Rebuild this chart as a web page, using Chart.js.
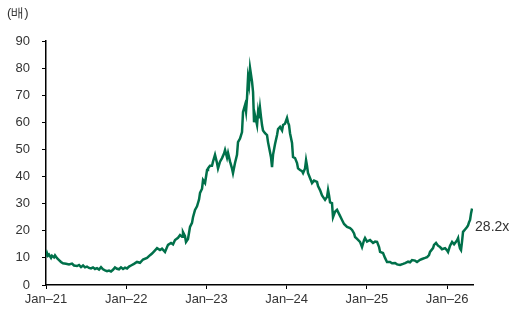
<!DOCTYPE html>
<html>
<head>
<meta charset="utf-8">
<script src="https://cdn.jsdelivr.net/npm/chart.js@4"></script>
<style>
  html, body { margin: 0; padding: 0; background: #fff; }
  #wrap { width: 514px; height: 314px; }
</style>
</head>
<body>
<div id="wrap"><canvas id="peChart" width="514" height="314"></canvas></div>
<script>
// --- data ---
// x: months since Jan-21, y: multiple (배)
const monthsSinceJan21 = [
  0, 0.15, 0.3, 0.45, 0.75, 0.9, 1.2, 1.35, 1.65, 1.95, 2.24, 2.54, 2.99, 3.44, 3.89, 4.19, 4.64, 4.94,
  5.24, 5.54, 5.83, 6.13, 6.43, 6.73, 7.03, 7.33, 7.63, 7.93, 8.23, 8.53, 8.83, 9.13, 9.42, 9.72, 10.02,
  10.32, 10.62, 10.92, 11.22, 11.52, 11.82, 12.12, 12.42, 12.72, 13.16, 13.61, 14.06, 14.51, 15.11, 15.56,
  15.86, 16.31, 16.61, 17.05, 17.35, 17.80, 18.25, 18.70, 19.0, 19.30, 19.75, 20.05, 20.35, 20.49, 20.79,
  20.94, 21.24, 21.54, 21.84, 21.99, 22.29, 22.59, 22.89, 23.04, 23.34, 23.49, 23.79, 24.09, 24.23, 24.53,
  24.83, 24.98, 25.28, 25.58, 25.73, 26.03, 26.33, 26.63, 26.78, 27.08, 27.23, 27.53, 27.82, 27.97, 28.27,
  28.57, 28.72, 29.02, 29.32, 29.47, 29.77, 29.92, 30.07, 30.22, 30.37, 30.52, 30.67, 30.82, 30.97, 31.12,
  31.27, 31.57, 31.72, 31.86, 32.01, 32.16, 32.31, 32.46, 32.76, 33.06, 33.21, 33.51, 33.66, 33.81, 33.96,
  34.26, 34.56, 34.71, 35.01, 35.31, 35.46, 35.75, 36.05, 36.20, 36.35, 36.50, 36.80, 36.95, 37.25, 37.55,
  37.70, 38.0, 38.30, 38.45, 38.75, 38.90, 39.04, 39.19, 39.49, 39.79, 40.09, 40.54, 40.69, 40.99, 41.29,
  41.74, 42.04, 42.19, 42.34, 42.49, 42.78, 42.93, 43.23, 43.53, 43.98, 44.28, 44.58, 45.03, 45.48, 45.78,
  46.08, 46.23, 46.53, 46.97, 47.27, 47.57, 47.72, 48.02, 48.47, 48.92, 49.22, 49.52, 49.82, 49.97, 50.41,
  50.71, 51.01, 51.46, 51.76, 52.21, 52.51, 52.96, 53.41, 53.71, 54.16, 54.45, 54.75, 55.20, 55.50, 55.95,
  56.25, 56.70, 57.0, 57.29, 57.44, 57.89, 58.04, 58.34, 58.64, 58.94, 59.24, 59.69, 59.99, 60.14, 60.44,
  60.74, 61.04, 61.19, 61.49, 61.64, 61.78, 61.93, 62.08, 62.23, 62.38, 62.68, 62.98, 63.13, 63.28, 63.43,
  63.58, 63.73
];
const peMultiple = [
  10.5, 11.8, 10.8, 11.2, 10.0, 10.8, 10.2, 10.9, 9.9, 9.2, 8.5, 8.0, 7.8, 7.6, 7.9, 7.2, 7.0, 7.4,
  6.6, 7.2, 6.5, 6.8, 6.3, 6.1, 6.5, 5.9, 6.2, 5.7, 6.6, 5.8, 5.4, 5.1, 5.3, 5.0, 5.6,
  6.5, 6.0, 5.8, 6.5, 5.9, 6.4, 6.1, 6.8, 7.2, 7.8, 8.5, 8.2, 9.4, 10.0, 11.0,
  11.6, 12.8, 13.6, 12.9, 13.4, 12.2, 14.8, 15.5, 15.0, 16.6, 17.4, 18.4, 17.8, 19.5, 18.0,
  15.9, 17.0, 21.4, 22.9, 25.0, 27.7, 29.0, 31.5, 34.0, 35.5, 38.7, 37.6, 42.4, 43.0, 44.0,
  44.0, 45.5, 48.0, 45.0, 43.0, 45.5, 46.8, 48.5, 49.8, 47.0, 48.7, 45.5, 43.0, 41.3, 45.0,
  48.0, 52.7, 54.0, 56.4, 63.8, 66.4, 64.0, 69.0, 76.4, 74.0, 80.0, 77.5, 74.9, 71.2, 60.0,
  62.5, 59.0, 63.8, 61.5, 65.3, 62.0, 59.0, 57.0, 56.0, 55.3, 52.7, 49.0, 47.0, 43.5, 48.0,
  52.0, 55.3, 57.5, 58.3, 57.0, 59.0, 59.5, 61.6, 60.0, 59.0, 56.0, 52.4, 47.2, 46.8, 45.0,
  43.0, 42.4, 42.0, 41.3, 43.0, 46.0, 44.0, 41.3, 39.5, 37.6, 38.5, 38.0, 36.5, 35.0, 33.0,
  31.4, 32.5, 35.0, 33.0, 30.5, 30.2, 25.0, 27.0, 27.7, 25.5, 24.0, 22.5, 21.4, 21.0, 20.3,
  19.0, 17.7, 17.0, 15.9, 14.0, 16.5, 17.3, 16.0, 16.6, 15.5, 16.0, 15.9, 14.0, 12.2, 11.8,
  10.0, 8.5, 8.5, 8.0, 8.1, 7.6, 7.4, 7.8, 8.1, 8.6, 8.4, 9.2, 9.0, 8.5, 9.3,
  9.6, 10.0, 10.3, 11.0, 12.2, 13.6, 14.8, 15.5, 14.5, 14.0, 13.2, 13.6, 12.8, 12.2, 14.5,
  15.9, 15.0, 15.5, 16.5, 17.3, 15.0, 13.5, 12.9, 16.0, 19.6, 20.5, 21.4, 22.0, 23.2, 24.0,
  26.5, 28.2
];
const tickMonths = [0, 12, 24, 36, 48, 60];
const tickLabels = ['Jan–21', 'Jan–22', 'Jan–23', 'Jan–24', 'Jan–25', 'Jan–26'];
const unitLabel = '(배)';
const lastLabel = '28.2x';

const textColor = '#333333';
const fontFamily = '"Liberation Sans", Arial, sans-serif';

// extra texts: unit at top-left, last value label at the right end
const textPlugin = {
  id: 'extraText',
  afterDraw(chart) {
    const c = chart.ctx;
    c.save();
    c.fillStyle = textColor;
    c.font = '13px ' + fontFamily;
    c.textBaseline = 'middle';
    c.textAlign = 'left';
    c.fillText(unitLabel, 7, 13);
    const meta = chart.getDatasetMeta(0);
    const last = meta.data[meta.data.length - 1];
    c.font = '14px ' + fontFamily;
    c.fillText(lastLabel, last.x + 3, last.y + 19);
    c.restore();
  }
};

new Chart(document.getElementById('peChart'), {
  type: 'line',
  data: {
    datasets: [{
      data: monthsSinceJan21.map((m, i) => ({ x: m, y: peMultiple[i] })),
      borderColor: '#00704A',
      borderWidth: 2.5,
      pointRadius: 0,
      tension: 0,
      fill: false
    }]
  },
  options: {
    responsive: false,
    animation: false,
    devicePixelRatio: 1,
    layout: { padding: { top: 41, right: 41, left: 0, bottom: 0 } },
    plugins: { legend: { display: false }, tooltip: { enabled: false } },
    scales: {
      x: {
        type: 'linear',
        min: 0,
        max: 63.87,
        afterBuildTicks(scale) { scale.ticks = tickMonths.map(v => ({ value: v })); },
        afterFit(scale) { scale.height = 29; },
        grid: { drawOnChartArea: false, tickLength: 4, color: '#000', tickColor: '#000' },
        border: { color: '#000', width: 1.5 },
        ticks: {
          padding: 3,
          maxRotation: 0,
          autoSkip: false,
          color: textColor,
          font: { size: 13, family: fontFamily },
          callback: v => tickLabels[tickMonths.indexOf(v)]
        }
      },
      y: {
        min: 0,
        max: 90,
        afterFit(scale) { scale.width = 46; },
        grid: { drawOnChartArea: false, tickLength: 4, color: '#000', tickColor: '#000' },
        border: { color: '#000', width: 1.5 },
        ticks: {
          stepSize: 10,
          padding: 12,
          color: textColor,
          font: { size: 13, family: fontFamily }
        }
      }
    }
  },
  plugins: [textPlugin]
});
</script>
</body>
</html>
